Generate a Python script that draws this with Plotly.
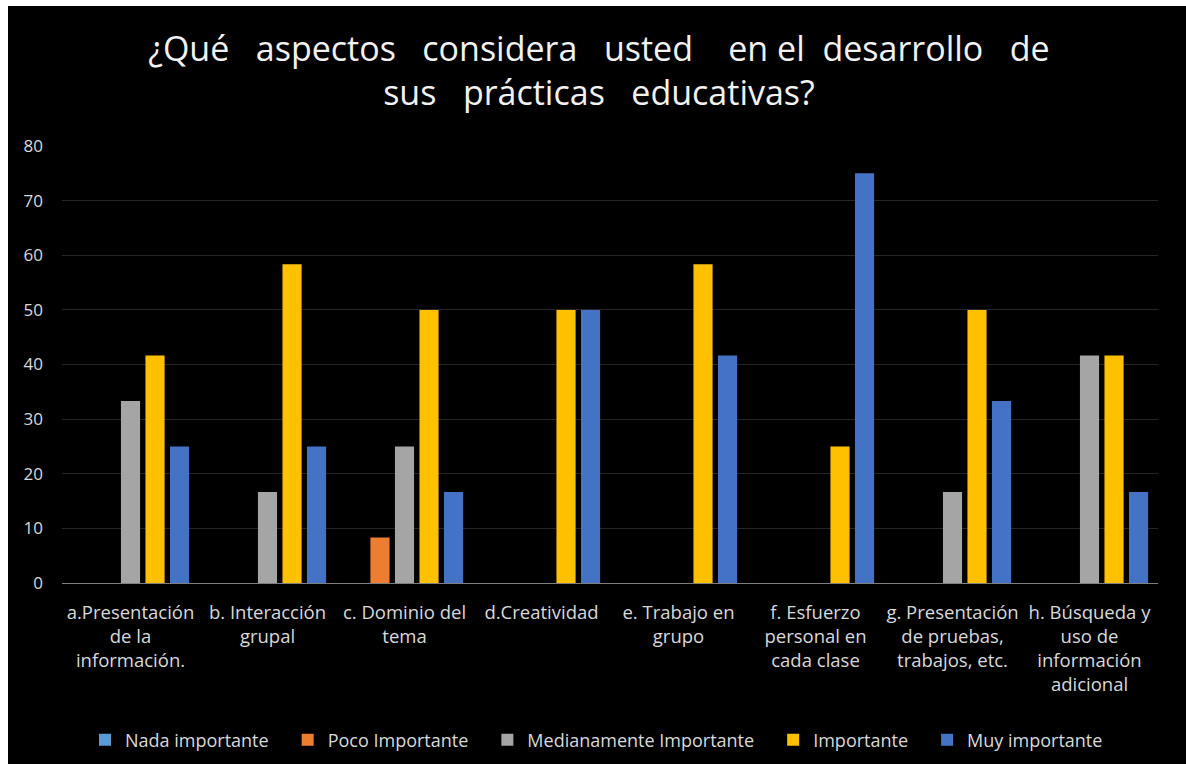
import plotly.graph_objects as go

categories = [
    "a.Presentación<br>de la<br>información.",
    "b. Interacción<br>grupal",
    "c. Dominio del<br>tema",
    "d.Creatividad",
    "e. Trabajo en<br>grupo",
    "f. Esfuerzo<br>personal en<br>cada clase",
    "g. Presentación<br>de pruebas,<br>trabajos, etc.",
    "h. Búsqueda y<br>uso de<br>información<br>adicional",
]
nada = [0, 0, 0, 0, 0, 0, 0, 0]
poco = [0, 0, 8.33, 0, 0, 0, 0, 0]
mediana = [33.33, 16.67, 25, 0, 0, 0, 16.67, 41.67]
importante = [41.67, 58.33, 50, 50, 58.33, 25, 50, 41.67]
muy = [25, 25, 16.67, 50, 41.67, 75, 33.33, 16.67]

series = [
    ("Nada importante", nada, "#5B9BD5"),
    ("Poco Importante", poco, "#ED7D31"),
    ("Medianamente Importante", mediana, "#A5A5A5"),
    ("Importante", importante, "#FFC000"),
    ("Muy importante", muy, "#4472C4"),
]

W, H = 1186, 764
ML, MT = 8, 6            # white frame on left / top
PW, PH = W - ML, H - MT  # black area
X0, X1 = 62, 1158        # plot area in pixels
Y0, Y1 = 146, 583

def dx(p):
    return (p - ML) / PW

def dy(p):
    return (H - p) / PH

pad = "\u00a0" * 3
fig = go.Figure()
# background subplot (xy) that fills the black area; chart drawn on x2/y2 above it
fig.add_trace(go.Scatter(x=[], y=[], xaxis="x", yaxis="y", showlegend=False, hoverinfo="skip"))
for i, (name, vals, col) in enumerate(series):
    label = name + (pad if i < len(series) - 1 else "")
    fig.add_trace(go.Bar(x=categories, y=vals, name=label, xaxis="x2", yaxis="y2",
                         marker=dict(color=col, line=dict(width=0))))

fig.update_layout(
    width=W, height=H,
    margin=dict(l=ML, r=0, t=MT, b=0, pad=0),
    paper_bgcolor="white",
    plot_bgcolor="black",
    barmode="group",
    bargap=0.105,
    bargroupgap=0.22,
    title=dict(
        text="¿Qué   aspectos   considera   usted    en el  desarrollo   de<br>sus   prácticas   educativas?",
        x=0.505, xanchor="center", y=1 - 61 / H, yanchor="middle",
        font=dict(family="Open Sans", size=34, color="#F2F2F2"),
    ),
    font=dict(family="Open Sans", color="#D9D9D9"),
    legend=dict(
        orientation="h", x=dx(596.5), xanchor="center", y=dy(740), yanchor="middle",
        font=dict(size=18, color="#D9D9D9"), bgcolor="rgba(0,0,0,0)",
        itemwidth=30, traceorder="normal",
    ),
    xaxis=dict(domain=[0, 1], anchor="y", visible=False, showgrid=False, zeroline=False, fixedrange=True),
    yaxis=dict(domain=[0, 1], anchor="x", visible=False, showgrid=False, zeroline=False, fixedrange=True),
    xaxis2=dict(
        domain=[dx(X0), dx(X1)], anchor="y2",
        categoryorder="array", categoryarray=categories,
        showgrid=False, showline=True, linecolor="#7F7F7F", linewidth=1,
        tickfont=dict(size=18.5, color="#D9D9D9"), ticks="",
        ticklabelstandoff=13, automargin=False,
    ),
    yaxis2=dict(
        domain=[dy(Y1), dy(Y0)], anchor="x2",
        range=[0, 80], dtick=10, showgrid=True, gridcolor="#262626", gridwidth=1,
        zeroline=False, tickfont=dict(size=17, color="#D9D9D9"), ticks="",
        ticklabelstandoff=18, automargin=False,
    ),
)

fig.write_html("out.html")
